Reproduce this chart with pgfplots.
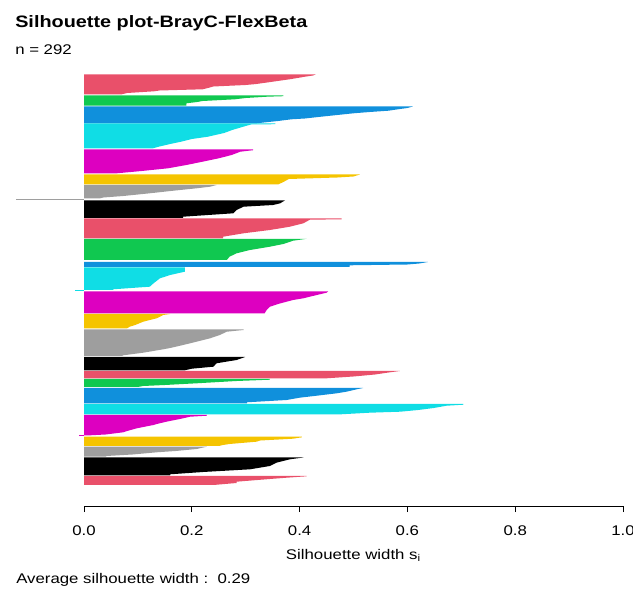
\documentclass[border=0pt]{standalone}
\usepackage{pgfplots}
\pgfplotsset{compat=1.18}
\usepackage{fontspec}
\setmainfont{Liberation Sans}[FakeStretch=1.2]
\definecolor{cred}{HTML}{E9506A}
\definecolor{cgreen}{HTML}{10C850}
\definecolor{cblue}{HTML}{1090DC}
\definecolor{ccyan}{HTML}{10DDE5}
\definecolor{cmag}{HTML}{DD00C0}
\definecolor{cgold}{HTML}{F5C400}
\definecolor{cgray}{HTML}{9E9E9E}
\definecolor{cblack}{HTML}{000000}
\begin{document}
\begin{tikzpicture}
\useasboundingbox (0,0) rectangle (474.75pt,442.5pt);
\begin{axis}[
  at={(10.45pt,63pt)}, anchor=south west,
  scale only axis, width=456.8pt, height=327pt,
  xmin=-0.13, xmax=1, ymin=-506, ymax=-70,
  axis line style={draw=none},
  ytick=\empty,
  xtick={0,0.2,0.4,0.6,0.8,1},
  xticklabels={0.0,0.2,0.4,0.6,0.8,1.0},
  xtick pos=bottom,
  tick align=outside,
  major tick length=4.5pt,
  tick style={black, line width=0.5pt},
  xticklabel style={font=\fontsize{10.5}{12}\selectfont, anchor=base, yshift=-18pt},
  clip=false,
  every axis plot/.append style={draw=none}
]
% C1 red
\addplot[fill=cred] coordinates {(0,-74.3) (0.43,-74.3) (0.425,-75.5) (0.41,-76.7) (0.385,-79) (0.35,-81.7) (0.32,-84) (0.3,-85) (0.24,-86.5) (0.23,-88) (0.22,-89.3) (0.14,-90.5) (0.13,-91.3) (0.08,-93) (0.07,-94.3) (0,-94.3)};
% C2 green
\addplot[fill=cgreen] coordinates {(0,-95.5) (0.37,-95.5) (0.37,-96.2) (0.34,-96.7) (0.3,-98) (0.28,-99.3) (0.22,-101) (0.21,-102) (0.19,-103.3) (0.19,-105.7) (0,-105.7)};
% C3 blue
\addplot[fill=cblue] coordinates {(0,-106.5) (0.61,-106.5) (0.6,-108) (0.58,-109.5) (0.565,-110.7) (0.53,-112) (0.5,-113.3) (0.47,-115) (0.44,-116.7) (0.41,-118.5) (0.385,-119.3) (0.36,-121) (0.32,-123.3) (0,-123.3)};
% C4 cyan
\addplot[fill=ccyan] coordinates {(0,-123.5) (0.355,-123.5) (0.355,-124.2) (0.31,-124.5) (0.3,-126) (0.275,-130) (0.26,-133) (0.23,-136.7) (0.2,-139) (0.18,-141.7) (0.16,-144) (0.14,-146.5) (0.128,-148.3) (0,-148.3)};
% C5 magenta
\addplot[fill=cmag] coordinates {(0,-149.5) (0.314,-149.5) (0.314,-150.2) (0.29,-151.7) (0.274,-155) (0.25,-158.3) (0.22,-161.7) (0.19,-165) (0.156,-168.3) (0.107,-171) (0.057,-173.5) (0,-173.5)};
% C6 gold
\addplot[fill=cgold] coordinates {(0,-174.5) (0.512,-174.5) (0.5,-176.5) (0.47,-177.5) (0.38,-179) (0.37,-182) (0.36,-184.5) (0,-184.5)};
% C7 gray
\addplot[fill=cgray] coordinates {(0,-185) (0.246,-185) (0.234,-186.7) (0.209,-188.3) (0.166,-190.7) (0.122,-193.3) (0.073,-196) (0.036,-197.5) (0.03,-198.3) (0,-198.3)};
\addplot[fill=cgray] coordinates {(0,-198.6) (-0.126,-198.6) (-0.126,-199.7) (0,-199.7)};
% C8 black
\addplot[fill=cblack] coordinates {(0,-200.3) (0.373,-200.3) (0.364,-203.3) (0.351,-205) (0.296,-206.7) (0.283,-210) (0.277,-213.3) (0.184,-216.7) (0.184,-218) (0,-218)};
% C9 red
\addplot[fill=cred] coordinates {(0,-218.5) (0.478,-218.5) (0.478,-219.3) (0.419,-219.7) (0.407,-223.3) (0.382,-226.7) (0.345,-230) (0.296,-233.3) (0.258,-236.7) (0.258,-238.3) (0,-238.3)};
% C10 green
\addplot[fill=cgreen] coordinates {(0,-238.8) (0.413,-238.8) (0.388,-240.7) (0.37,-244) (0.345,-246.7) (0.308,-250) (0.283,-253.3) (0.27,-256.7) (0.265,-260) (0,-260)};
% C11 blue
\addplot[fill=cblue] coordinates {(0,-262) (0.638,-262) (0.622,-263.5) (0.6,-264.5) (0.493,-265.3) (0.493,-266.8) (0,-266.8)};
% C12 cyan
\addplot[fill=ccyan] coordinates {(0,-267.3) (0.187,-267.3) (0.187,-271.7) (0.16,-275) (0.141,-278.3) (0.129,-283.3) (0.122,-286.7) (0.054,-289.3) (0.054,-290) (0,-290)};
\addplot[fill=ccyan] coordinates {(0,-290.2) (-0.017,-290.2) (-0.017,-291) (0,-291)};
% C13 magenta
\addplot[fill=cmag] coordinates {(0,-291.5) (0.453,-291.5) (0.45,-292.7) (0.432,-295) (0.419,-296.7) (0.407,-298.3) (0.388,-300) (0.376,-301.7) (0.36,-304) (0.345,-306.7) (0.339,-310) (0.335,-313.3) (0,-313.3)};
% C14 gold
\addplot[fill=cgold] coordinates {(0,-314) (0.16,-314) (0.147,-315) (0.135,-318.3) (0.122,-320) (0.11,-321.7) (0.095,-325) (0.085,-326.7) (0.08,-328.3) (0,-328.3)};
% C15 gray
\addplot[fill=cgray] coordinates {(0,-329.3) (0.296,-329.3) (0.296,-330) (0.265,-331.7) (0.252,-335) (0.234,-338.3) (0.209,-341.7) (0.184,-345) (0.16,-348) (0.147,-349.3) (0.11,-352.7) (0.073,-355.3) (0.07,-356) (0,-356)};
% C16 black
\addplot[fill=cblack] coordinates {(0,-357) (0.299,-357) (0.283,-360) (0.246,-363.3) (0.24,-366.7) (0.2,-368.7) (0.187,-370.3) (0,-370.3)};
% C17 red
\addplot[fill=cred] coordinates {(0,-371) (0.586,-371) (0.565,-372.5) (0.54,-374.5) (0.5,-376.5) (0.45,-378.3) (0,-378.3)};
% C18 green
\addplot[fill=cgreen] coordinates {(0,-379) (0.345,-379) (0.345,-379.7) (0.283,-381) (0.209,-383.3) (0.15,-385) (0.11,-386) (0.1,-387) (0,-387)};
% C19 blue
\addplot[fill=cblue] coordinates {(0,-388) (0.518,-388) (0.506,-389.3) (0.487,-391.7) (0.469,-393.3) (0.432,-395.7) (0.4,-397.7) (0.376,-400) (0.302,-402.3) (0.302,-403.3) (0,-403.3)};
% C20 cyan
\addplot[fill=ccyan] coordinates {(0,-404) (0.704,-404) (0.704,-404.7) (0.673,-405.7) (0.649,-408) (0.62,-410) (0.587,-411.7) (0.53,-412.7) (0.47,-414.5) (0,-414.5)};
% C21 magenta
\addplot[fill=cmag] coordinates {(0,-415) (0.228,-415) (0.228,-415.7) (0.197,-416.7) (0.178,-419) (0.153,-421.7) (0.135,-424) (0.129,-425) (0.098,-428.3) (0.08,-431) (0.073,-432.3) (0.04,-434.5) (0.005,-435.5) (0,-435.5)};
\addplot[fill=cmag] coordinates {(0,-435.5) (-0.01,-435.5) (-0.01,-436.2) (0,-436.2)};
% C22 gold
\addplot[fill=cgold] coordinates {(0,-436.7) (0.404,-436.7) (0.404,-437.3) (0.388,-438.7) (0.327,-440.5) (0.32,-441.7) (0.27,-444) (0.258,-445) (0.25,-446) (0,-446)};
% C23 gray
\addplot[fill=cgray] coordinates {(0,-446.7) (0.228,-446.7) (0.209,-449) (0.17,-451) (0.135,-452.3) (0.09,-454.5) (0.042,-456) (0.04,-456.7) (0,-456.7)};
% C24 black
\addplot[fill=cblack] coordinates {(0,-457.5) (0.407,-457.5) (0.382,-459.3) (0.357,-462.7) (0.345,-466) (0.308,-469.3) (0.221,-472) (0.16,-474.3) (0.16,-475.3) (0,-475.3)};
% C25 red
\addplot[fill=cred] coordinates {(0,-475.8) (0.413,-475.8) (0.413,-476.3) (0.376,-477.7) (0.345,-479) (0.283,-481.7) (0.283,-483) (0.24,-485) (0,-485)};
\draw[black, line width=0.5pt] (axis cs:0,-506) -- (axis cs:1,-506);
\end{axis}
\node[anchor=base west, inner sep=0pt, font=\fontsize{12.4}{14}\selectfont\bfseries] at (11.25pt,421.5pt) {Silhouette plot-BrayC-FlexBeta};
\node[anchor=base west, inner sep=0pt, font=\fontsize{10.5}{12}\selectfont] at (11.25pt,401.25pt) {n = 292};
\node[anchor=base, inner sep=0pt, font=\fontsize{10.5}{12}\selectfont] at (265.1pt,23.25pt) {Silhouette width s\textsubscript{i}};
\node[anchor=base west, inner sep=0pt, font=\fontsize{10.5}{12}\selectfont] at (12pt,5.25pt) {Average silhouette width :\ \ 0.29};
\end{tikzpicture}
\end{document}
